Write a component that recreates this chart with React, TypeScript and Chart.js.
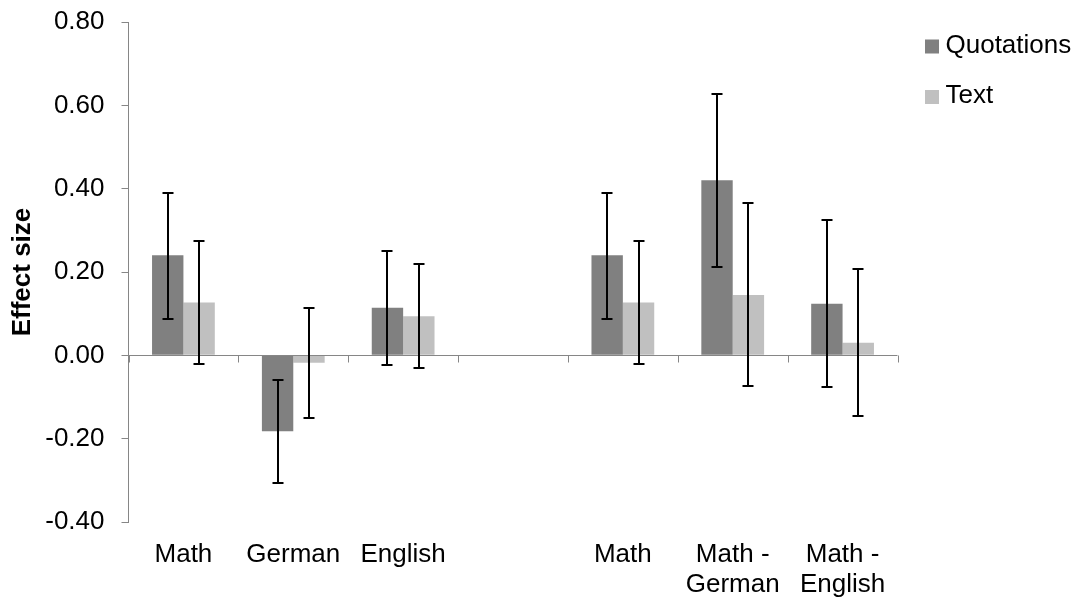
import React, { useEffect, useRef } from "react";
import { Chart, registerables } from "chart.js";

Chart.register(...registerables);

// Categories (blank slot separates the two groups)
const categories: (string | string[])[] = [
  "Math",
  "German",
  "English",
  "",
  "Math",
  ["Math -", "German"],
  ["Math -", "English"],
];

const seriesNames = ["Quotations", "Text"];

// Effect sizes
const quotations = [0.24, -0.182, 0.114, null, 0.24, 0.42, 0.124];
const text = [0.127, -0.018, 0.094, null, 0.127, 0.145, 0.03];

// Confidence interval bounds
const quotationsLow = [0.088, -0.306, -0.024, null, 0.088, 0.212, -0.076];
const quotationsHigh = [0.39, -0.058, 0.251, null, 0.39, 0.627, 0.324];
const textLow = [-0.021, -0.151, -0.031, null, -0.021, -0.074, -0.145];
const textHigh = [0.274, 0.113, 0.22, null, 0.274, 0.365, 0.207];

const yTicks = [-0.4, -0.2, 0, 0.2, 0.4, 0.6, 0.8];

const FONT = '"Liberation Sans", Arial, Helvetica, sans-serif';
const AXIS_GREY = "#868686";
const COLORS = ["#808080", "#c0c0c0"];

const errorRanges = [
  { low: quotationsLow, high: quotationsHigh },
  { low: textLow, high: textHigh },
];

// Horizontal axis line through zero with tick marks at category boundaries
const zeroAxisPlugin = {
  id: "zeroAxis",
  afterDatasetsDraw(chart: any) {
    const { ctx, scales } = chart;
    const x = scales.x;
    const y = scales.y;
    const y0 = Math.round(y.getPixelForValue(0)) + 0.5;
    ctx.save();
    ctx.strokeStyle = AXIS_GREY;
    ctx.lineWidth = 1;
    ctx.beginPath();
    ctx.moveTo(x.left, y0);
    ctx.lineTo(x.right, y0);
    for (let i = 0; i <= categories.length; i++) {
      const px = Math.round(x.getPixelForValue(i - 0.5)) + 0.5;
      ctx.moveTo(px, y0);
      ctx.lineTo(px, y0 + 7);
    }
    ctx.stroke();
    ctx.restore();
  },
};

// Error bars with caps
const errorBarPlugin = {
  id: "errorBars",
  afterDatasetsDraw(chart: any) {
    const { ctx, scales } = chart;
    const y = scales.y;
    ctx.save();
    ctx.strokeStyle = "#000";
    ctx.lineWidth = 2;
    chart.data.datasets.forEach((_: any, di: number) => {
      const meta = chart.getDatasetMeta(di);
      const r = errorRanges[di];
      meta.data.forEach((bar: any, i: number) => {
        const lo = r.low[i];
        const hi = r.high[i];
        if (lo == null || hi == null) return;
        const cx = Math.round(bar.x);
        const yl = Math.round(y.getPixelForValue(lo));
        const yh = Math.round(y.getPixelForValue(hi));
        ctx.beginPath();
        ctx.moveTo(cx, yh);
        ctx.lineTo(cx, yl);
        ctx.moveTo(cx - 5.5, yh);
        ctx.lineTo(cx + 5.5, yh);
        ctx.moveTo(cx - 5.5, yl);
        ctx.lineTo(cx + 5.5, yl);
        ctx.stroke();
      });
    });
    ctx.restore();
  },
};

// Legend at the upper right
const sideLegendPlugin = {
  id: "sideLegend",
  afterDraw(chart: any) {
    const { ctx } = chart;
    const rows = [46.5, 97];
    ctx.save();
    ctx.font = `26px ${FONT}`;
    ctx.textBaseline = "middle";
    ctx.textAlign = "left";
    chart.data.datasets.forEach((ds: any, i: number) => {
      const cy = rows[i];
      ctx.fillStyle = ds.backgroundColor;
      ctx.fillRect(925, cy - 7, 14, 14);
      ctx.fillStyle = "#000";
      ctx.fillText(ds.label, 945.5, cy - 1);
    });
    ctx.restore();
  },
};

export default function App() {
  const canvasRef = useRef<HTMLCanvasElement | null>(null);

  useEffect(() => {
    document.body.style.margin = "0";
    const canvas = canvasRef.current;
    if (!canvas) return;
    Chart.defaults.font.family = FONT;

    const chart = new Chart(canvas, {
      type: "bar",
      data: {
        labels: categories as any,
        datasets: [
          {
            label: seriesNames[0],
            data: quotations as any,
            backgroundColor: COLORS[0],
            categoryPercentage: 0.5714,
            barPercentage: 1,
          },
          {
            label: seriesNames[1],
            data: text as any,
            backgroundColor: COLORS[1],
            categoryPercentage: 0.5714,
            barPercentage: 1,
          },
        ],
      },
      options: {
        responsive: false,
        animation: false,
        events: [],
        layout: { padding: { top: 22, right: 180.5, bottom: 0, left: 0 } },
        plugins: {
          legend: { display: false },
          tooltip: { enabled: false },
        },
        scales: {
          x: {
            grid: { display: false, drawTicks: false },
            border: { display: false },
            ticks: {
              color: "#000",
              font: { size: 26, lineHeight: 1.15 },
              padding: 17.5,
              maxRotation: 0,
              autoSkip: false,
            },
            afterFit(scale: any) {
              scale.height = 79;
              scale.paddingLeft = 0;
              scale.paddingRight = 0;
            },
          },
          y: {
            min: -0.4,
            max: 0.8,
            afterBuildTicks(scale: any) {
              scale.ticks = yTicks.map((v) => ({ value: v }));
            },
            grid: {
              display: true,
              drawOnChartArea: false,
              drawTicks: true,
              tickLength: 7,
              color: AXIS_GREY,
            },
            border: { display: true, color: AXIS_GREY, width: 1 },
            ticks: {
              color: "#000",
              font: { size: 26 },
              padding: 17,
              callback: (v: any) => Number(v).toFixed(2),
            },
            title: {
              display: true,
              text: "Effect size",
              color: "#000",
              font: { size: 26, weight: "bold", lineHeight: 1.2 },
              padding: { top: 7, bottom: 0 },
            },
            afterFit(scale: any) {
              scale.width = 128.5;
              scale.paddingTop = 0;
              scale.paddingBottom = 0;
            },
          },
        },
      },
      plugins: [zeroAxisPlugin, errorBarPlugin, sideLegendPlugin],
    });

    return () => chart.destroy();
  }, []);

  return (
    <div style={{ position: "relative", width: 1078, height: 601 }}>
      <canvas ref={canvasRef} width={1078} height={601} />
    </div>
  );
}
